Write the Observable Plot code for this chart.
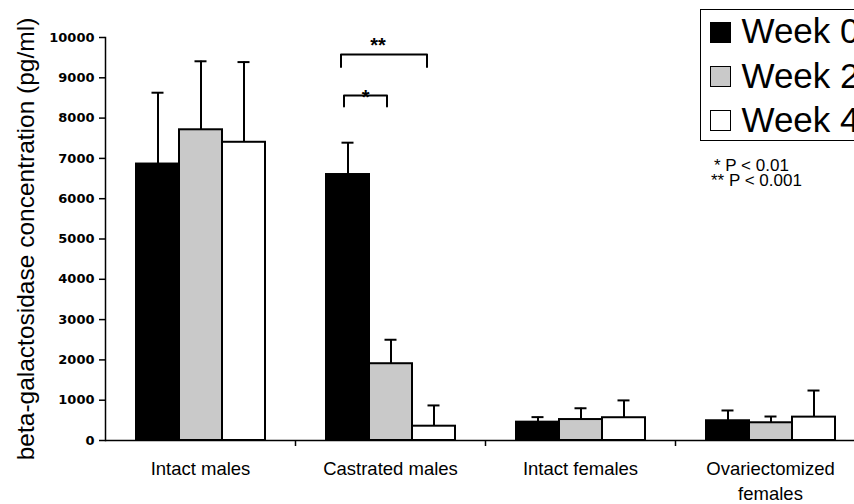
<!DOCTYPE html>
<html>
<head>
<meta charset="utf-8">
<script src="https://cdn.jsdelivr.net/npm/d3@7"></script>
<script src="https://cdn.jsdelivr.net/npm/@observablehq/plot@0.6"></script>
<style>
  html, body { margin: 0; padding: 0; background: #fff; overflow: hidden; }
  #wrap { position: relative; width: 854px; height: 504px; overflow: hidden; font-family: "Liberation Sans", Arial, sans-serif; color: #000; }
  #legend { position: absolute; left: 700px; top: 9px; width: 220px; height: 132px; border: 1.5px solid #000; background: #fff; box-sizing: border-box; }
  .sw { position: absolute; left: 8.5px; width: 21px; height: 21px; border: 1.5px solid #000; box-sizing: border-box; }
  .lt { position: absolute; left: 40.5px; font-size: 35px; line-height: 35px; white-space: nowrap; }
  .note { position: absolute; font-size: 17px; line-height: 15px; white-space: nowrap; }
</style>
</head>
<body>
<div id="wrap"></div>
<script>
// ---- data ----
const cats = ["Intact males", "Castrated males", "Intact females", "Ovariectomized females"];
const catLabels = ["Intact males", "Castrated males", "Intact females", "Ovariectomized\nfemales"];
const weeks = ["Week 0", "Week 2", "Week 4"];
const meanW0 = [6860, 6600, 455, 490];
const meanW2 = [7710, 1905, 520, 440];
const meanW4 = [7400, 355, 565, 580];
const errW0 = [1770, 790, 125, 255];
const errW2 = [1700, 595, 280, 155];
const errW4 = [1990, 515, 430, 660];
const yTicks = [0, 1000, 2000, 3000, 4000, 5000, 6000, 7000, 8000, 9000, 10000];
const yLabel = "beta-galactosidase concentration (pg/ml)";
const brackets = [
  {cat: "Castrated males", from: "Week 0", to: "Week 2", y: 8560, drop: 270, label: "*"},
  {cat: "Castrated males", from: "Week 0", to: "Week 4", y: 9580, drop: 310, label: "**"}
];
const notes = ["* P < 0.01", "** P < 0.001"];

// ---- build table ----
const means = [meanW0, meanW2, meanW4];
const errs = [errW0, errW2, errW4];
const rows = [];
cats.forEach((c, i) => weeks.forEach((w, j) => {
  rows.push({cat: c, week: w, mean: means[j][i], upper: means[j][i] + errs[j][i]});
}));

const fills = ["#000000", "#c9c9c9", "#ffffff"];
const bracketDx = [-4, -7];
const starDx = [17.6, 30];
const starDy = [2, -9];

const bracketMarks = brackets.flatMap((b, k) => [
  Plot.line([
    {cat: b.cat, w: b.from, v: b.y - b.drop},
    {cat: b.cat, w: b.from, v: b.y},
    {cat: b.cat, w: b.to, v: b.y},
    {cat: b.cat, w: b.to, v: b.y - b.drop}
  ], {fx: "cat", x: "w", y: "v", stroke: "#000", strokeWidth: 2, dx: bracketDx[k]}),
  Plot.text([b], {fx: "cat", x: "from", y: "y", text: "label", fontSize: 20, fontWeight: "bold",
    lineAnchor: "middle", dx: starDx[k], dy: starDy[k]})
]);

const chart = Plot.plot({
  width: 854,
  height: 504,
  marginLeft: 105,
  marginRight: 0,
  marginTop: 37,
  marginBottom: 64,
  style: {fontFamily: "'Liberation Sans', Arial, sans-serif", background: "#fff", color: "#000"},
  fx: {domain: cats, range: [105, 865], padding: 0, axis: null},
  x: {domain: weeks, paddingInner: 0, paddingOuter: 0.7, axis: null},
  y: {domain: [0, 10000], axis: null},
  color: {domain: weeks, range: fills},
  marks: [
    Plot.ruleY([0], {stroke: "#000", strokeWidth: 1.5}),
    Plot.frame({anchor: "left", facetAnchor: "left", stroke: "#000", strokeWidth: 1.5}),
    Plot.axisY({anchor: "left", ticks: yTicks, tickSize: 6, tickPadding: 5, tickFormat: d => String(d),
      fontFamily: "DejaVu Sans", fontWeight: "bold", fontSize: 13, label: null, strokeWidth: 1.5}),
    Plot.text([yLabel], {text: d => d, frameAnchor: "left", rotate: -90, dx: -79, fontSize: 24.5,
      facetAnchor: "left", lineAnchor: "middle", textAnchor: "middle"}),
    Plot.axisFx({anchor: "bottom", tickSize: 6, tickFormat: null, label: null, dx: 95, strokeWidth: 1.5}),
    Plot.axisFx({anchor: "bottom", tickSize: 0, tickPadding: 17, fontSize: 18.5, lineHeight: 1.35,
      tickFormat: d => catLabels[cats.indexOf(d)], label: null}),
    Plot.ruleX(rows, {fx: "cat", x: "week", y1: "mean", y2: "upper", stroke: "#000", strokeWidth: 2}),
    Plot.tickY(rows, {fx: "cat", x: "week", y: "upper", insetLeft: 15.5, insetRight: 15.5, stroke: "#000", strokeWidth: 2}),
    Plot.barY(rows, {fx: "cat", x: "week", y: "mean", fill: "week", stroke: "#000", strokeWidth: 2}),
    ...bracketMarks
  ]
});

const wrap = document.getElementById("wrap");
wrap.appendChild(chart);

// legend (inside plot area, top right)
const legend = document.createElement("div");
legend.id = "legend";
const swTops = [11.5, 55.5, 100];
const txTops = [2.9, 47.9, 91.9];
weeks.forEach((w, j) => {
  const sw = document.createElement("div");
  sw.className = "sw";
  sw.style.top = swTops[j] + "px";
  sw.style.background = fills[j];
  legend.appendChild(sw);
  const t = document.createElement("div");
  t.className = "lt";
  t.style.top = txTops[j] + "px";
  t.textContent = w;
  legend.appendChild(t);
});
wrap.appendChild(legend);

const noteLefts = [714, 711];
const noteTops = [158.3, 173.3];
notes.forEach((n, k) => {
  const d = document.createElement("div");
  d.className = "note";
  d.style.left = noteLefts[k] + "px";
  d.style.top = noteTops[k] + "px";
  d.textContent = n;
  wrap.appendChild(d);
});
</script>
</body>
</html>
